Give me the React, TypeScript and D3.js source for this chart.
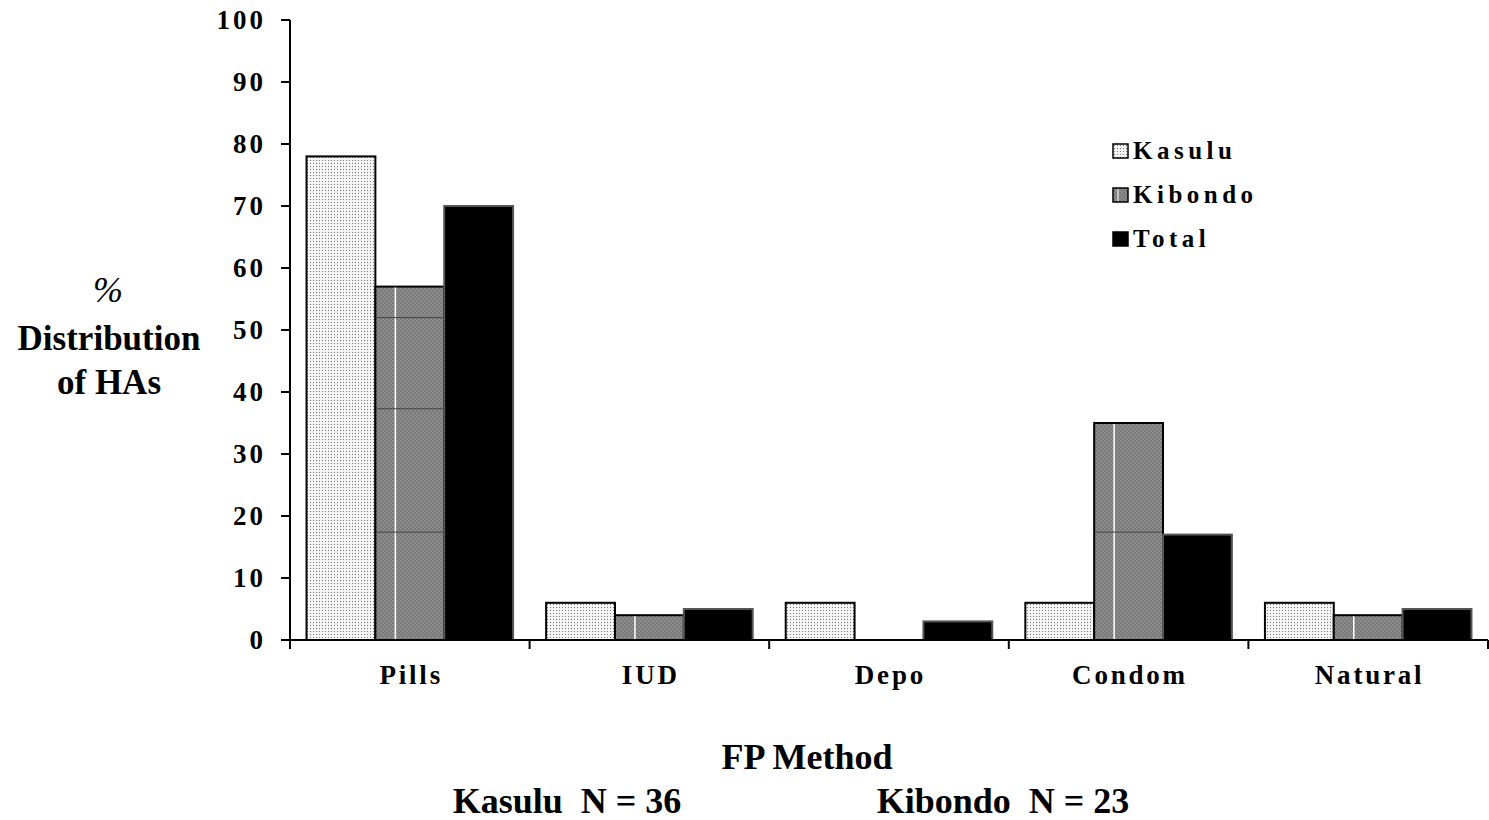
import React from "react";
import * as d3 from "d3";

const categories = ["Pills", "IUD", "Depo", "Condom", "Natural"];
const seriesNames = ["Kasulu", "Kibondo", "Total"];
const kasulu = [78, 6, 6, 6, 6];
const kibondo = [57, 4, 0, 35, 4];
const total = [70, 5, 3, 17, 5];
const yTicks = [0, 10, 20, 30, 40, 50, 60, 70, 80, 90, 100];
const kibondoLines = [52, 37.3, 17.4];

const W = 1489, H = 820;
const x0 = 290, x1 = 1488, yTop = 20, yBot = 640;
const FONT = "'Liberation Serif', 'Times New Roman', serif";

export default function App() {
  const x = d3.scaleBand<string>().domain(categories).range([x0, x1]).paddingInner(0.138).paddingOuter(0.069);
  const xi = d3.scaleBand<string>().domain(seriesNames).range([0, x.bandwidth()]);
  const y = d3.scaleLinear().domain([0, 100]).range([yBot, yTop]);
  const series = [kasulu, kibondo, total];
  const fills = ["url(#dots)", "url(#checker)", "#000"];
  const strokes = ["#000", "#000", "#555"];
  const band = (x1 - x0) / categories.length;

  return (
    <svg width={W} height={H} style={{ position: "absolute", left: 0, top: 0, background: "#fff" }} fontFamily={FONT}>
      <defs>
        <pattern id="dots" width="3" height="3" patternUnits="userSpaceOnUse">
          <rect width="3" height="3" fill="#f4f4f4" />
          <rect x="1" y="1" width="1" height="1" fill="#777" />
        </pattern>
        <pattern id="checker" width="4" height="4" patternUnits="userSpaceOnUse">
          <rect width="4" height="4" fill="#7a7a7a" />
          <rect width="2" height="2" fill="#8c8c8c" />
          <rect x="2" y="2" width="2" height="2" fill="#8c8c8c" />
        </pattern>
      </defs>

      {/* bars */}
      {categories.map((c, ci) => (
        <g key={c}>
          {series.map((s, si) => {
            const v = s[ci];
            if (v <= 0) return null;
            const bx = (x(c) as number) + (xi(seriesNames[si]) as number);
            const bw = xi.bandwidth();
            const by = y(v);
            return (
              <g key={si}>
                <rect x={bx} y={by} width={bw} height={yBot - by} fill={fills[si]} stroke={strokes[si]} strokeWidth={2} />
                {si === 1 && (
                  <g>
                    <line x1={bx + bw * 0.29} x2={bx + bw * 0.29} y1={by + 1} y2={yBot} stroke="#fff" strokeWidth={1.5} />
                    {kibondoLines.filter((l) => l < v).map((l) => (
                      <line key={l} x1={bx + 1} x2={bx + bw - 1} y1={y(l)} y2={y(l)} stroke="#444" strokeWidth={1} />
                    ))}
                  </g>
                )}
              </g>
            );
          })}
        </g>
      ))}

      {/* y axis */}
      <line x1={x0} x2={x0} y1={yTop} y2={yBot + 9} stroke="#000" strokeWidth={2} />
      {yTicks.map((t) => (
        <g key={t}>
          <line x1={x0 - 9} x2={x0} y1={y(t)} y2={y(t)} stroke="#000" strokeWidth={2} />
          <text x={266} y={y(t)} dy="0.34em" textAnchor="end" fontSize={27} fontWeight="bold" letterSpacing={3}>{t}</text>
        </g>
      ))}

      {/* x axis */}
      <line x1={x0} x2={x1} y1={yBot} y2={yBot} stroke="#000" strokeWidth={2} />
      {d3.range(categories.length + 1).map((i) => (
        <line key={i} x1={x0 + i * band} x2={x0 + i * band} y1={yBot} y2={yBot + 9} stroke="#000" strokeWidth={2} />
      ))}
      {categories.map((c) => (
        <text key={c} x={(x(c) as number) + x.bandwidth() / 2 + 1.4} y={684} textAnchor="middle" fontSize={27} fontWeight="bold" letterSpacing={2.8}>{c}</text>
      ))}

      {/* y title */}
      <text x={108} y={302} textAnchor="middle" fontSize={36} fontStyle="italic">%</text>
      <text x={109} y={350} textAnchor="middle" fontSize={35} fontWeight="bold">Distribution</text>
      <text x={109} y={394} textAnchor="middle" fontSize={35} fontWeight="bold">of HAs</text>

      {/* x title */}
      <text x={807} y={769} textAnchor="middle" fontSize={36} fontWeight="bold">FP Method</text>
      <text x={567} y={813} textAnchor="middle" fontSize={36} fontWeight="bold" style={{ whiteSpace: "pre" }}>Kasulu  N = 36</text>
      <text x={1003} y={813} textAnchor="middle" fontSize={36} fontWeight="bold" style={{ whiteSpace: "pre" }}>Kibondo  N = 23</text>

      {/* legend */}
      {seriesNames.map((n, i) => (
        <g key={n} transform={`translate(1113, ${144 + i * 44})`}>
          <rect x={0} y={0} width={15} height={14} fill={fills[i]} stroke="#000" strokeWidth={1.5} />
          {i === 1 && <line x1={5} x2={5} y1={1} y2={13} stroke="#fff" strokeWidth={1} />}
          <text x={20} y={15} fontSize={25} fontWeight="bold" letterSpacing={4.5}>{n}</text>
        </g>
      ))}
    </svg>
  );
}
